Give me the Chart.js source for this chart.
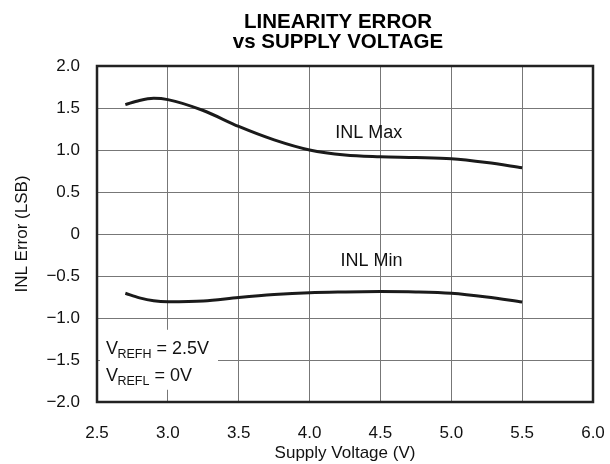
<!DOCTYPE html>
<html>
<head>
<meta charset="utf-8">
<script src="https://cdn.jsdelivr.net/npm/chart.js@4.4.0/dist/chart.umd.min.js"></script>
<style>
html,body{margin:0;padding:0;background:#fff;}
#wrap{width:610px;height:464px;position:relative;}
</style>
</head>
<body>
<div id="wrap"><canvas id="c" width="610" height="464"></canvas></div>
<script>
const titleLines = ["LINEARITY ERROR", "vs SUPPLY VOLTAGE"];
const xAxisTitle = "Supply Voltage (V)";
const yAxisTitle = "INL Error (LSB)";
const xTicks = [2.5, 3.0, 3.5, 4.0, 4.5, 5.0, 5.5, 6.0];
const yTicks = [-2.0, -1.5, -1.0, -0.5, 0, 0.5, 1.0, 1.5, 2.0];
const voltage = [2.7, 2.8, 2.9, 3.0, 3.25, 3.5, 3.75, 4.0, 4.25, 4.5, 4.75, 5.0, 5.25, 5.5];
const inlMax = [1.54, 1.59, 1.615, 1.60, 1.47, 1.28, 1.12, 1.00, 0.94, 0.92, 0.91, 0.895, 0.85, 0.79];
const inlMin = [-0.705, -0.76, -0.795, -0.806, -0.798, -0.755, -0.72, -0.698, -0.69, -0.686, -0.69, -0.706, -0.75, -0.81];
const seriesLabels = ["INL Max", "INL Min"];
const labelAnchors = [[4.418, 1.146], [4.437, -0.381]];
const noteLines = [["V", "REFH", " = 2.5V"], ["V", "REFL", " = 0V"]];

const FONT = "'Liberation Sans', Arial, Helvetica, sans-serif";

function fmtY(v){
  if (Math.abs(v) < 1e-9) return "0";
  const s = Math.abs(v).toFixed(1);
  return (v < 0 ? "\u2212" : "") + s;
}

const overlay = {
  id: 'overlay',
  beforeDraw(chart){
    const ctx = chart.ctx;
    ctx.save();
    ctx.fillStyle = '#fff';
    ctx.fillRect(0,0,chart.width,chart.height);
    ctx.restore();
  },
  afterDatasetsDraw(chart){
    const ctx = chart.ctx, a = chart.chartArea;
    const xs = chart.scales.x, ys = chart.scales.y;
    ctx.save();
    // note box
    const bx = xs.getPixelForValue(2.5) + 3, by = ys.getPixelForValue(-1.14);
    ctx.fillStyle = '#fff';
    ctx.fillRect(bx, by, 118, 60);
    ctx.fillStyle = '#111';
    ctx.textBaseline = 'alphabetic';
    noteLines.forEach((ln, i) => {
      let x = bx + 6;
      const y = by + 24 + i * 27;
      ctx.font = "18px " + FONT;
      ctx.fillText(ln[0], x, y); x += ctx.measureText(ln[0]).width - 0.5;
      ctx.font = "12.5px " + FONT;
      ctx.fillText(ln[1], x, y + 4); x += ctx.measureText(ln[1]).width;
      ctx.font = "18px " + FONT;
      ctx.fillText(ln[2], x, y);
    });
    // series labels
    ctx.font = "18px " + FONT;
    ctx.textAlign = 'center';
    seriesLabels.forEach((t, i) => {
      ctx.fillText(t, xs.getPixelForValue(labelAnchors[i][0]), ys.getPixelForValue(labelAnchors[i][1]));
    });
    // frame
    ctx.strokeStyle = '#222';
    ctx.lineWidth = 2.5;
    ctx.strokeRect(a.left, a.top, a.right - a.left, a.bottom - a.top);
    // title
    ctx.fillStyle = '#000';
    ctx.font = "bold 20.5px " + FONT;
    ctx.textBaseline = 'alphabetic';
    const cx = (a.left + a.right) / 2 - 7;
    ctx.fillText(titleLines[0], cx, 27.5);
    ctx.fillText(titleLines[1], cx, 48);
    ctx.restore();
  }
};

new Chart(document.getElementById('c'), {
  type: 'line',
  data: {
    datasets: [
      { label: seriesLabels[0], data: voltage.map((v,i)=>({x:v, y:inlMax[i]})) },
      { label: seriesLabels[1], data: voltage.map((v,i)=>({x:v, y:inlMin[i]})) }
    ].map(d => Object.assign(d, {borderColor:'#1a1a1a', borderWidth:3, pointRadius:0, cubicInterpolationMode:'monotone', fill:false}))
  },
  options: {
    responsive: false,
    animation: false,
    devicePixelRatio: 1,
    layout: { padding: { left: 12, right: 17, top: 66, bottom: 0 } },
    plugins: { legend: { display: false }, tooltip: { enabled: false }, title: { display: false } },
    scales: {
      x: {
        type: 'linear', min: 2.5, max: 6.0,
        afterBuildTicks(s){ s.ticks = xTicks.map(v => ({value: v})); },
        afterFit(s){ s.height = 62; s.paddingLeft = 0; s.paddingRight = 0; },
        grid: { color: '#777', lineWidth: 1, drawTicks: false },
        border: { display: false },
        ticks: { color: '#111', font: { family: FONT, size: 17 }, padding: 21, callback: v => v.toFixed(1), maxRotation: 0 },
        title: { display: true, text: xAxisTitle, color: '#111', font: { family: FONT, size: 17 }, padding: { top: 0, bottom: 0 } }
      },
      y: {
        type: 'linear', min: -2.0, max: 2.0,
        afterBuildTicks(s){ s.ticks = yTicks.map(v => ({value: v})); },
        afterFit(s){ s.width = 85; s.paddingTop = 0; s.paddingBottom = 0; },
        grid: { color: '#777', lineWidth: 1, drawTicks: false },
        border: { display: false },
        ticks: { color: '#111', font: { family: FONT, size: 17 }, padding: 17, callback: v => fmtY(v) },
        title: { display: true, text: yAxisTitle, color: '#111', font: { family: FONT, size: 17 }, padding: { top: 0, bottom: 4 } }
      }
    }
  },
  plugins: [overlay]
});
</script>
</body>
</html>
